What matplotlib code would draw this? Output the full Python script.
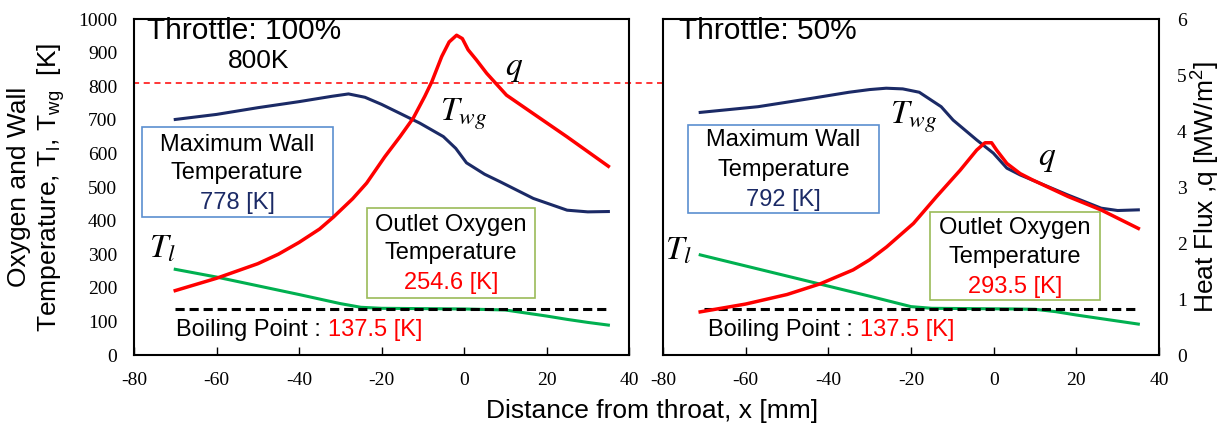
import matplotlib.pyplot as plt
from matplotlib.patches import Rectangle

plt.rcParams['font.family'] = 'Liberation Sans'
plt.rcParams['mathtext.fontset'] = 'stix'
plt.rcParams['mathtext.default'] = 'regular'
plt.rcParams['axes.unicode_minus'] = False

NAVY = '#1b2a66'
RED = '#ff0000'
GREEN = '#00b050'

# ---- Throttle 100 % ----
x_wg_100 = [-70, -60, -56, -50, -40, -32, -28, -24, -20, -15.5, -10.7, -5, -2, 0.6, 5, 8.7, 16.8, 25, 30, 35]
t_wg_100 = [701, 716, 724, 736, 754, 770, 777, 767, 746, 719, 690, 650, 615, 572, 538, 516, 466, 431, 426, 427]

x_q_100 = [-70, -60, -50, -45, -40, -35, -31.7, -27, -23.6, -19.2, -15.5, -12.3, -9.5, -7.8, -5.4, -3.6, -1.8,
           -0.4, 1.0, 3.0, 5.5, 10.3, 16.8, 24.9, 35]
q_100 = [1.15, 1.37, 1.63, 1.80, 2.01, 2.25, 2.46, 2.79, 3.07, 3.54, 3.90, 4.23, 4.62, 4.88, 5.33, 5.59, 5.71,
         5.65, 5.45, 5.27, 5.03, 4.64, 4.31, 3.90, 3.37]

x_l_100 = [-70, -60, -50, -40, -30, -25, -20, -10, 0, 10, 15, 20, 25, 30, 35]
t_l_100 = [255, 232, 206, 180, 153, 142, 139, 138, 137, 134, 125, 116, 106, 97, 89]

# ---- Throttle 50 % ----
x_wg_50 = [-71, -57, -44, -35, -30, -26, -22, -18, -12.7, -9.8, -4.1, -0.1, 3.2, 6.4, 9.3, 18, 26, 30, 35]
t_wg_50 = [722, 739, 764, 782, 790, 794, 792, 782, 739, 699, 640, 601, 556, 536, 521, 476, 437, 430, 432]

x_q_50 = [-71, -60, -50, -42, -34, -30, -25.9, -19.4, -13.8, -8.1, -4.1, -2.1, -0.5, 0.7, 3.2, 6.4, 9.3, 18,
          26, 35]
q_50 = [0.77, 0.91, 1.08, 1.27, 1.52, 1.70, 1.93, 2.35, 2.83, 3.30, 3.66, 3.79, 3.79, 3.66, 3.42, 3.24, 3.13,
        2.83, 2.59, 2.26]

x_l_50 = [-71, -60, -50, -41, -30, -20, -15, -5, 5, 10, 15, 20, 25, 30, 35]
t_l_50 = [298, 265, 235, 208, 175, 144, 139, 138, 137, 136, 129, 119, 110, 101, 92]

boil_x = [-70, 35]
boil_t = 137.5
limit_t = 810

max_wall = ['778', '792']
outlet_ox = ['254.6', '293.5']
throttle = ['Throttle: 100%', 'Throttle: 50%']

x_ticks = list(range(-80, 41, 20))
t_ticks = list(range(0, 1001, 100))
q_ticks = list(range(0, 7))

fig = plt.figure(figsize=(12.21, 4.23), dpi=100)
ax1 = fig.add_axes([134 / 1221, 68 / 423, 495 / 1221, 336 / 423])
ax2 = fig.add_axes([663 / 1221, 68 / 423, 496 / 1221, 336 / 423])


def draw_panel(ax, xw, tw, xq, q, xl, tl):
    ax.plot(xl, tl, color=GREEN, lw=2.2, zorder=2)
    ax.plot(boil_x, [boil_t] * len(boil_x), color='black', lw=2.2, dashes=(3, 1.6), zorder=3)
    ax.plot(xw, tw, color=NAVY, lw=2.2, zorder=4)
    ax.set_xlim(-80, 40)
    ax.set_ylim(0, 1000)
    ax.set_xticks(x_ticks)
    ax.set_yticks(t_ticks)
    ax.tick_params(axis='x', direction='in', length=6, width=1, pad=12, labelsize=14)
    ax.tick_params(axis='y', length=0, pad=12, labelsize=14)
    for lbl in ax.get_xticklabels() + ax.get_yticklabels():
        lbl.set_fontfamily('Liberation Serif')
    for s in ax.spines.values():
        s.set_linewidth(1.5)
    axq = ax.twinx()
    axq.plot(xq, q, color=RED, lw=2.5, solid_joinstyle='round')
    axq.set_ylim(0, 6)
    axq.set_yticks(q_ticks)
    axq.tick_params(axis='y', length=0, pad=13, labelsize=14)
    for lbl in axq.get_yticklabels():
        lbl.set_fontfamily('Liberation Serif')
    for s in axq.spines.values():
        s.set_visible(False)
    return axq


axq1 = draw_panel(ax1, x_wg_100, t_wg_100, x_q_100, q_100, x_l_100, t_l_100)
axq2 = draw_panel(ax2, x_wg_50, t_wg_50, x_q_50, q_50, x_l_50, t_l_50)
axq1.set_yticklabels([])
ax2.set_yticklabels([])

# dashed 800 K limit line across both panels
p1, p2 = ax1.get_position(), ax2.get_position()
ax1.axhline(limit_t, xmin=-0.002, xmax=(p2.x1 - p1.x0) / p1.width, color=RED, lw=1.1,
            dashes=(4, 3), clip_on=False, zorder=1)
ax1.text(-49.7, 875, '800K', ha='center', va='center', size=19)

mkw = dict(size=24, va='baseline', ha='left')
ax1.text(-5.8, 699, r'$\mathit{T_{wg}}$', **mkw)
ax1.text(9.9, 833, r'$\mathit{q}$', **mkw)
ax1.text(-76.4, 289, r'$\mathit{T_l}$', **mkw)
ax2.text(-25.1, 690, r'$\mathit{T_{wg}}$', **mkw)
ax2.text(10.7, 565, r'$\mathit{q}$', **mkw)
ax2.text(-79.5, 283, r'$\mathit{T_l}$', clip_on=False, **mkw)

# annotation boxes
boxes = [
    (ax1, (-78.1, 411, 46.3, 268), -55.0, (625, 542, 452), max_wall[0], NAVY, '#5b8fd0', 'Maximum Wall'),
    (ax1, (-23.5, 170, 40.7, 267), -3.2, (387, 304, 214), outlet_ox[0], RED, '#9bbb59', 'Outlet Oxygen'),
    (ax2, (-74.0, 423, 46.2, 262), -50.9, (640, 551, 461), max_wall[1], NAVY, '#5b8fd0', 'Maximum Wall'),
    (ax2, (-15.4, 164, 41.1, 262), 5.2, (378, 292, 202), outlet_ox[1], RED, '#9bbb59', 'Outlet Oxygen'),
]
for ax, (bx, by, bw, bh), cx, ys, val, vcol, ecol, head in boxes:
    ax.add_patch(Rectangle((bx, by), bw, bh, fill=False, edgecolor=ecol, lw=1.2, zorder=5))
    ax.text(cx, ys[0], head, ha='center', va='center', size=17)
    ax.text(cx, ys[1], 'Temperature', ha='center', va='center', size=17)
    ax.text(cx, ys[2], val + ' [K]', ha='center', va='center', size=17, color=vcol)

for ax, x0, title in [(ax1, -76.8, throttle[0]), (ax2, -76.1, throttle[1])]:
    ax.text(x0, 964, title, ha='left', va='center', size=21.5)
    t = ax.text(x0 + 7, 74, 'Boiling Point : ', ha='left', va='center', size=17)
    ax.annotate('137.5 [K]', xy=(1, 0.5), xycoords=t, ha='left', va='center', size=17, color=RED)

fig.text(37.5 / 1221, 1 - 187 / 423, 'Oxygen and Wall\nTemperature, T$_l$, T$_{wg}$  [K]',
         rotation=90, ha='center', va='center', size=19, multialignment='center')
fig.text(1206 / 1221, 1 - 187 / 423, 'Heat Flux ,q [MW/m$^2$]', rotation=90,
         ha='center', va='center', size=19)
fig.text(652 / 1221, 1 - 411 / 423, 'Distance from throat, x [mm]', ha='center', va='center', size=19)

fig.savefig('out.png', dpi=100)
